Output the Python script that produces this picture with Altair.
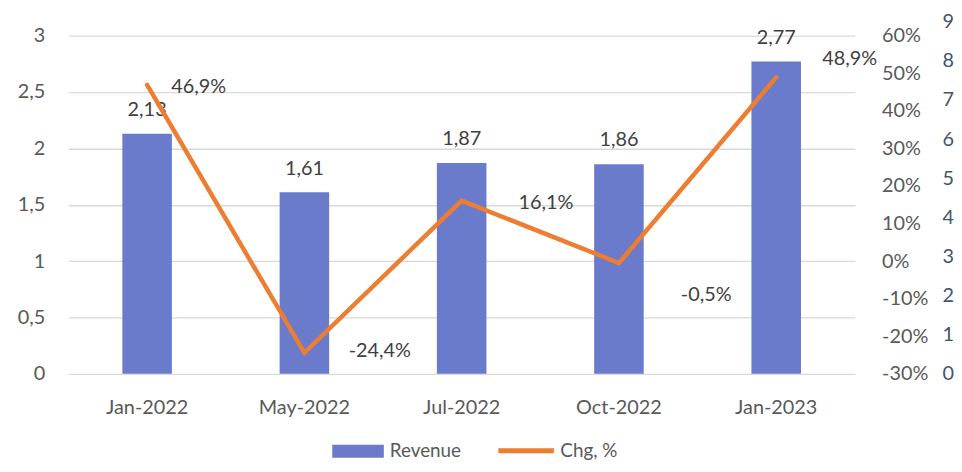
import altair as alt
import pandas as pd

MONTHS = ["Jan-2022", "May-2022", "Jul-2022", "Oct-2022", "Jan-2023"]
REVENUE = [2.13, 1.61, 1.87, 1.86, 2.77]
CHG = [46.9, -24.4, 16.1, -0.5, 48.9]
AXIS3_TICKS = list(range(10))
REV_TICKS = [0, 0.5, 1, 1.5, 2, 2.5, 3]
CHG_TICKS = list(range(-30, 61, 10))

# label offsets (style only)
LINE_LABEL_DX = [52, 76, 85, 88, 74]
LINE_LABEL_DY = [2, -2, 2, 32, -19]

FONT = "Lato"
FS = 20
GREY = "#595959"
LABEL = "#404040"
BLUE = "#6A7BCB"
ORANGE = "#ED7D31"

df = pd.DataFrame({"month": MONTHS, "rev": REVENUE, "chg": CHG})
df["rev_lbl"] = [f"{v:.2f}".replace(".", ",") for v in REVENUE]
df["chg_lbl"] = [f"{v:.1f}%".replace(".", ",") for v in CHG]
df["s1"] = "Revenue"
df["s2"] = "Chg, %"

x_enc = alt.X(
    "month:N",
    sort=MONTHS,
    scale=alt.Scale(paddingInner=0.685, paddingOuter=0.3425),
    axis=alt.Axis(
        title=None, labelAngle=0, domain=False, ticks=False, grid=False,
        labelFont=FONT, labelFontSize=FS, labelColor=GREY, labelPadding=24,
    ),
)

y_rev = alt.Y(
    "rev:Q",
    scale=alt.Scale(domain=[0, 3], nice=False),
    axis=alt.Axis(
        orient="left", title=None, values=REV_TICKS,
        labelExpr="replace(format(datum.value, '.1~f'), '.', ',')",
        domain=False, ticks=False, grid=True, gridColor="#D9D9D9",
        gridWidth=1.3, labelFont=FONT, labelFontSize=FS, labelColor=GREY,
        labelPadding=24, labelOverlap=False,
    ),
)

y_chg = alt.Y(
    "chg:Q",
    scale=alt.Scale(domain=[-30, 60], nice=False),
    axis=alt.Axis(
        orient="right", title=None, values=CHG_TICKS,
        labelExpr="datum.value + '%'", domain=False, ticks=False,
        grid=False, labelFont=FONT, labelFontSize=FS, labelColor=GREY,
        labelPadding=27, labelAlign="left", labelOverlap=False,
    ),
)

base = alt.Chart(df)

bars = base.mark_bar(color=BLUE).encode(
    x=x_enc,
    y=y_rev,
    fill=alt.Fill(
        "s1:N",
        scale=alt.Scale(domain=["Revenue"], range=[BLUE]),
        legend=alt.Legend(
            title=None, orient="none", legendX=266, legendY=393,
            symbolType="M-1,-0.25H1V0.25H-1Z", symbolSize=2704,
            symbolStrokeWidth=0, labelFont=FONT, labelFontSize=19,
            labelColor=GREY, labelOffset=6,
        ),
    ),
)

bar_text = base.mark_text(
    font=FONT, fontSize=FS, color=LABEL, baseline="middle", dy=-24
).encode(x=x_enc, y=y_rev, text="rev_lbl:N")

bar_layer = alt.layer(bars, bar_text)

line = base.mark_line(strokeWidth=4.5, strokeCap="round").encode(
    x=x_enc,
    y=y_chg,
    stroke=alt.Stroke(
        "s2:N",
        scale=alt.Scale(domain=["Chg, %"], range=[ORANGE]),
        legend=alt.Legend(
            title=None, orient="none", legendX=431, legendY=388,
            symbolType="stroke", symbolSize=3136, symbolStrokeWidth=5,
            labelFont=FONT, labelFontSize=19, labelColor=GREY, labelOffset=4,
        ),
    ),
)

line_texts = []
for m, dx, dy in zip(MONTHS, LINE_LABEL_DX, LINE_LABEL_DY):
    line_texts.append(
        base.transform_filter(alt.datum.month == m)
        .mark_text(font=FONT, fontSize=FS, color=LABEL, baseline="middle",
                   dx=dx, dy=dy)
        .encode(x=x_enc, y=y_chg, text="chg_lbl:N")
    )

line_layer = alt.layer(line, *line_texts)

ax3 = alt.Chart(pd.DataFrame({"t": AXIS3_TICKS})).mark_point(opacity=0).encode(
    y=alt.Y(
        "t:Q",
        scale=alt.Scale(domain=[0, 9], range=[341, -14], nice=False, zero=False),
        axis=alt.Axis(
            orient="right", title=None, values=AXIS3_TICKS, offset=88,
            domain=False, ticks=False, grid=False, labelFont=FONT,
            labelFontSize=FS, labelColor="#44546A", labelPadding=0,
            labelAlign="left", labelOverlap=False,
        ),
    )
)

chart = (
    alt.layer(bar_layer, line_layer, ax3)
    .resolve_scale(y="independent")
    .properties(
        width=793, height=341,
        autosize=alt.AutoSizeParams(type="none"),
        padding={"left": 61, "top": 26, "right": 100, "bottom": 89},
    )
    .configure_view(stroke=None)
)

chart.save("out.html", embed_options={"renderer": "svg", "actions": False})
